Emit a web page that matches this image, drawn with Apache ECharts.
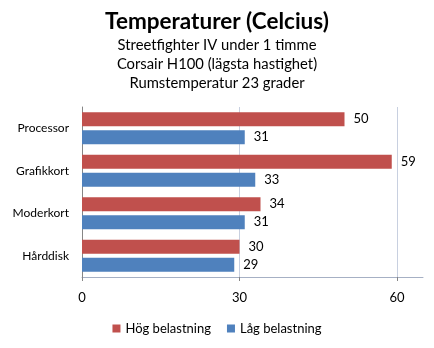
<!DOCTYPE html>
<html><head><meta charset="utf-8">
<script src="https://cdn.jsdelivr.net/npm/echarts@6/dist/echarts.min.js"></script>
<style>html,body{margin:0;padding:0;background:#fff}#c{width:434px;height:348px}</style>
</head><body><div id="c"></div>
<script>
const categories = ['Processor', 'Grafikkort', 'Moderkort', 'Hårddisk'];
const hog = [50, 59, 34, 30];
const lag = [31, 33, 31, 29];
const seriesNames = ['Hög belastning', 'Låg belastning'];
const titleText = 'Temperaturer (Celcius)';
const subLines = ['Streetfighter IV under 1 timme', 'Corsair H100 (lägsta hastighet)', 'Rumstemperatur 23 grader'];
const xMin = 0, xTickMax = 60, xAxisEnd = 65, xStep = 30;

const FONT = 'Lato, "Open Sans", sans-serif';
const chart = echarts.init(document.getElementById('c'), null, {renderer: 'canvas'});
const lbl = {show: true, position: 'right', distance: 9, color: '#000', fontSize: 13, fontFamily: FONT};
const gridTop = 107, gridBottom = 71;
chart.setOption({
  animation: false,
  color: ['#C0504D', '#4F81BD'],
  title: {
    text: titleText,
    subtext: subLines.join('\n'),
    left: 'center', top: 5, itemGap: 3,
    textStyle: {fontSize: 22.5, fontWeight: 'bold', color: '#000', fontFamily: FONT},
    subtextStyle: {fontSize: 14.8, color: '#000', lineHeight: 19, fontFamily: FONT}
  },
  legend: {
    data: seriesNames, bottom: 8, left: 'center', itemWidth: 8, itemHeight: 8, itemGap: 16,
    icon: 'rect', textStyle: {fontSize: 13, color: '#000', fontFamily: FONT}
  },
  grid: [
    {left: 82, right: 37, top: gridTop, bottom: gridBottom},
    {left: 82, right: 11, top: gridTop, bottom: gridBottom}
  ],
  xAxis: [
    {
      type: 'value', gridIndex: 0, min: xMin, max: xTickMax, interval: xStep,
      axisLine: {show: false},
      axisTick: {show: true, length: 4, lineStyle: {color: '#868686'}},
      axisLabel: {margin: 14, fontSize: 13, color: '#000', fontFamily: FONT},
      splitLine: {show: true, lineStyle: {color: '#C8D0E0'}}
    },
    {
      type: 'value', gridIndex: 1, min: xMin, max: xAxisEnd,
      axisLine: {show: true, lineStyle: {color: '#A6B0C4'}},
      axisTick: {show: false}, axisLabel: {show: false}, splitLine: {show: false}
    }
  ],
  yAxis: [
    {
      type: 'category', gridIndex: 0, data: categories, inverse: true,
      axisLine: {show: true, lineStyle: {color: '#868686'}},
      axisTick: {show: false},
      axisLabel: {margin: 13, fontSize: 12, color: '#000', fontFamily: FONT}
    },
    {
      type: 'category', gridIndex: 1, data: categories, inverse: true, show: false
    }
  ],
  series: [
    {name: seriesNames[0], type: 'bar', xAxisIndex: 0, yAxisIndex: 0, data: hog, barWidth: 14, barGap: '28%', label: lbl},
    {name: seriesNames[1], type: 'bar', xAxisIndex: 0, yAxisIndex: 0, data: lag, barWidth: 14, barGap: '28%', label: lbl}
  ]
});
</script></body></html>
